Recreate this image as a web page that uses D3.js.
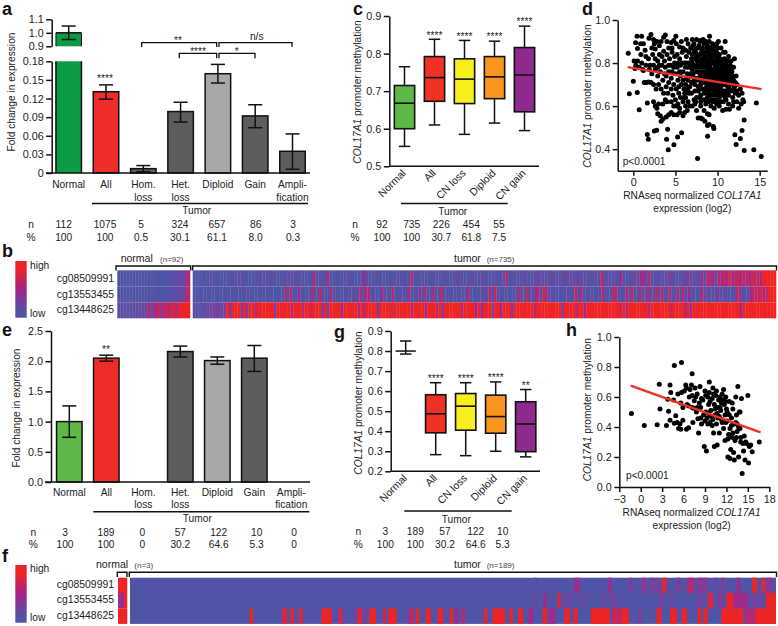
<!DOCTYPE html>
<html><head><meta charset="utf-8">
<script src="https://cdnjs.cloudflare.com/ajax/libs/d3/7.8.5/d3.min.js"></script>
<style>html,body{margin:0;padding:0;background:#fff}svg{display:block}text{font-family:"Liberation Sans",Arial,sans-serif;fill:#222}</style>
</head><body><div id="c"></div>
<script>
const barCats=["Normal","All","Hom. loss","Het. loss","Diploid","Gain","Ampli- fication"];
const aMean=[1.0,0.131,0.007,0.099,0.16,0.092,0.035];
const aLow=[0.95,0.119,0.002,0.082,0.145,0.073,0.006];
const aHigh=[1.05,0.142,0.012,0.114,0.175,0.11,0.063];
const aN=["112","1075","5","324","657","86","3"];
const aPct=["100","100","0.5","30.1","61.1","8.0","0.3"];
const eMean=[1.0,2.05,null,2.16,2.01,2.05,null];
const eLow=[0.74,2.0,null,2.07,1.95,1.83,null];
const eHigh=[1.26,2.1,null,2.25,2.07,2.26,null];
const eN=["3","189","0","57","122","10","0"];
const ePct=["100","100","0","30.2","64.6","5.3","0"];
const boxCats=["Normal","All","CN loss","Diploid","CN gain"];
const boxColors=["#5cb947","#f03224","#f8ee1e","#f9951f","#8e2a8e"];
const cBox=[[.553,.6,.668,.715,.765],[.61,.673,.736,.792,.838],[.585,.667,.732,.786,.835],[.615,.68,.738,.792,.833],[.595,.645,.743,.816,.873]];
const cN=["92","735","226","454","55"];
const cPct=["100","100","30.7","61.8","7.5"];
const gBox=[[.785,.8,.8,.8,.85],[.283,.392,.487,.582,.642],[.278,.405,.525,.588,.642],[.3,.39,.473,.58,.646],[.272,.298,.436,.547,.608]];
const gN=["3","189","57","122","10"];
const gPct=["100","100","30.2","64.6","5.3"];
const dLine=[[-.67,.781],[15.2,.679]];
const hLine=[[-1.41,.676],[16.78,.364]];
const dPts=[[-.6,.845],[-.47,.657],[0,.716],[.47,.663],[.7,.583],[1.66,.615],[1.66,.468],[1.78,.446],[2.5,.484],[2.77,.488],[4.07,.493],[3.95,.446],[4.15,.397],[4.82,.42],[5.26,.457],[5.73,.476],[7.63,.357],[8.81,.46],[9.56,.496],[9.5,.505],[12.05,.467],[12.2,.422],[12.7,.45],[12.9,.487],[13.16,.535],[13.16,.394],[14.3,.397],[14.6,.615],[15.18,.366],
[.45,.925],[1,.925],[2.1,.933],[1.86,.915],[.28,.894],[.87,.89],[.5,.868],[1.4,.86],[2.2,.87],[2.5,.89],[2.8,.9],[3.1,.88],[2.6,.865],[3.6,.92],[3.8,.93],[5.05,.925],[4.5,.895],[4.8,.905],[4.2,.87],[3.6,.855],[5.1,.89],[5.5,.875],[5.9,.87],[6.3,.91],[6.2,.86],[7,.91],[7.5,.91],[8,.905],[8.4,.89],[9.05,.925],[9,.9],[9.9,.89],[10.1,.9],[10.9,.9],
[.1,.81],[.3,.79],[.5,.81],[.7,.78],[1,.8],[1.2,.765],[.2,.775],[1.5,.83],[1.8,.82],[2,.79],[2.3,.84],[2.6,.82],[2.9,.81],[3.1,.84],[3.4,.83],[3.7,.81],[4,.84],[4.3,.82],[4.6,.85],[4.9,.83],[5.2,.84],[5.5,.82],[5.8,.85],[1.3,.71],[1.5,.71],[1.8,.712],[2.1,.71],[2.4,.7],[2.7,.68],[2.2,.75],[2.6,.77],[2.9,.74],[3.2,.76],[3.5,.72],[3.8,.78],[3.9,.74],[4.2,.76],[4.5,.73],[4.8,.78],[5,.75],[5.3,.72],[5.6,.79],[5.9,.76],[3,.7],[3.3,.68],[3.6,.66],[3.9,.69],[4.2,.71],[4.5,.68],[4.8,.7],[5.1,.68],[5.4,.66],[5.7,.7],[6,.68],
[2.4,.62],[2.6,.6],[2.8,.59],[3,.61],[2.9,.565],[3.2,.555],[3.5,.54],[3.8,.63],[4,.62],[3.3,.53],[3.9,.55],[4.2,.56],[4.5,.57],[4.8,.56],[5.2,.56],[5.5,.57],[5.9,.555],[6.1,.57],[6.4,.58],[6.7,.6],[4.5,.62],[4.8,.6],[5,.63],[5.3,.61],[5.6,.64],[5.9,.62],[6.2,.64],[6.5,.62],[7,.6],[7.3,.61],[7.5,.58],[7.7,.545],[8,.545],[8.2,.54],[8.5,.53],[8.8,.51],[9,.515],[8,.6],[8.4,.58],[8.8,.565],[9,.56],[9.2,.6],[9.6,.59],[9.9,.61],[10.2,.6],[10.6,.58],[11,.585],[11.4,.585],[11.8,.6],[12.3,.62],[12.5,.59],[12.8,.61],[13,.63],
[6.1,.8],[6.3,.83],[6.5,.78],[6.6,.85],[6.8,.75],[6.9,.82],[6.5,.72],[6.7,.69],[6.9,.66],[7.1,.88],[7.2,.79],[7.2,.73],[7.3,.7],[7.4,.85],[7.5,.64],[7.5,.76],[7.6,.81],[7.7,.67],[7.8,.88],[7.8,.73],[7.9,.84],[8,.79],[8,.7],[8,.65],[8.1,.76],[8.2,.87],[8.2,.82],[8.3,.73],[8.3,.68],[8.4,.63],[8.5,.79],[8.5,.85],[8.6,.75],[8.6,.71],[8.7,.66],[8.8,.88],[8.8,.81],[8.9,.77],[8.9,.73],[8.9,.62],[9,.84],[9,.69],[9.1,.79],[9.2,.87],[9.2,.75],[9.2,.65],[9.3,.82],[9.3,.71],[9.4,.77],[9.5,.86],[9.5,.67],[9.6,.73],[9.6,.8],[9.7,.84],[9.7,.63],[9.8,.76],[9.8,.7],[9.9,.81],[10,.87],[10,.65],[10,.74],[10.1,.79],[10.2,.84],[10.2,.68],[10.3,.72],[10.3,.77],[10.4,.62],[10.5,.81],[10.5,.65],[10.6,.75],[10.6,.7],[10.7,.85],[10.8,.78],[10.8,.67],[10.9,.72],[11,.8],[11,.63],[11.1,.75],[11.2,.69],[11.3,.77],[11.3,.65],[11.4,.72],[11.5,.75],[11.6,.67],[11.7,.71],[11.8,.64],[11.9,.78],[12,.69],[12.1,.66],[12.2,.74],[12.3,.67],[12.5,.65],[12.7,.68],[12.9,.66],[13.1,.62],[12,.82],
[6.4,.75],[6.6,.8],[6.8,.87],[7,.84],[7,.77],[7.1,.71],[7.3,.67],[7.4,.78],[7.5,.83],[7.6,.87],[7.6,.72],[7.7,.69],[7.8,.78],[7.9,.64],[7.9,.81],[8.1,.85],[8.1,.71],[8.2,.78],[8.3,.8],[8.4,.76],[8.4,.66],[8.5,.74],[8.6,.83],[8.7,.78],[8.7,.69],[8.8,.75],[8.9,.85],[9,.72],[9,.66],[9.1,.82],[9.2,.77],[9.3,.68],[9.3,.86],[9.4,.74],[9.5,.8],[9.5,.7],[9.6,.65],[9.7,.78],[9.8,.73],[9.8,.83],[9.9,.68],[10,.77],[10,.71],[10.1,.82],[10.2,.74],[10.2,.64],[10.3,.8],[10.4,.69],[10.4,.75],[10.6,.79],[10.7,.73],[10.7,.66],[10.8,.82],[10.9,.76],[11,.7],[11,.66],[11.1,.78],[11.2,.73],[11.4,.68],[11.5,.79],[11.6,.73],[11.7,.76],[11.9,.72],[6.6,.66],[6.9,.71],[7.2,.63],[6.8,.78],[6.3,.73],[6.1,.66],[5.9,.72],[6,.64],[7.4,.62],[8,.62],[8.6,.61],[9.4,.62],[10,.62],[10.7,.62],[11.3,.61],[11.9,.62],[6.4,.69],[6.2,.78],[5.6,.74],[5.3,.8],[4.9,.8],[4.4,.79],[3.4,.79],[2.9,.78],[1.9,.77],[1.1,.77],[8.3,.91],[8.6,.9],[9.4,.89],[9.7,.88],[10.4,.87],[10.9,.85],[11.3,.83],[11.6,.81],[7.2,.89],[7.9,.9],
[7,.8],[7.3,.82],[7.1,.75],[7.4,.73],[7.7,.76],[7.7,.83],[7.2,.86],[7.6,.79],[7.9,.75],[7.9,.87],[8.1,.8],[8.1,.74],[8.1,.68],[8.3,.84],[8.4,.71],[8.5,.82],[8.6,.78],[8.6,.68],[8.7,.87],[8.7,.73],[8.8,.71],[8.8,.64],[8.9,.8],[8.9,.68],[9,.77],[9,.87],[9.1,.74],[9.1,.7],[9.2,.84],[9.2,.8],[9.3,.76],[9.3,.63],[9.4,.8],[9.4,.84],[9.4,.7],[9.5,.77],[9.5,.73],[9.6,.68],[9.6,.62],[9.7,.81],[9.7,.75],[9.7,.71],[9.8,.79],[9.8,.66],[9.9,.73],[9.9,.85],[10,.8],[10,.69],[10.1,.75],[10.1,.66],[10.2,.71],[10.3,.82],[10.3,.67],[10.4,.79],[10.4,.73],[10.5,.77],[10.5,.71],[10.6,.67],[10.7,.81],[10.7,.76],[10.8,.7],[10.9,.74],[10.9,.64],[11,.77],[11,.73],[11.1,.67],[11.1,.81],[11.2,.76],[11.3,.71],[11.4,.75],[11.5,.7],[11.6,.77],[11.8,.74],[11.9,.68],[12.1,.71],[12.3,.7],[6.2,.7],[6.5,.67],[6.7,.74],[6.3,.8],[5.8,.8],[5.5,.76],[5.2,.78],[4.6,.76],[4.2,.79],[3.7,.75],[3.1,.79],[2.4,.79],[1.5,.79],[.9,.84],[1.2,.89],[2.4,.91],[3.3,.9],[4,.9],[4.6,.87],[5.7,.9],[6.5,.89],[5.4,.69],[4.7,.65],[4.1,.66],[3.5,.61],[5.1,.6],[5.5,.59],[6.2,.6]];
const hPts=[[-1.3,.49],[.5,.41],[2.3,.415],[2.6,.685],[2.7,.52],[3.6,.41],[3.8,.585],[3.9,.505],[4.1,.68],[4.1,.445],[4.2,.63],[4.6,.58],[4.7,.81],[4.7,.425],[4.9,.475],[5.1,.43],[5.3,.39],[5.5,.42],[5.7,.83],[5.6,.385],[5.6,.56],[5.7,.63],[5.9,.445],[6.1,.64],[6.3,.68],[6.4,.66],[6.5,.55],[6.7,.54],[6.4,.385],[6.7,.395],[7.1,.68],[7.2,.755],[7.2,.61],[7.3,.43],[7.4,.525],[7.5,.575],[7.6,.66],[7.7,.6],[7.8,.5],[7.9,.62],[8,.455],[8.1,.36],[8.2,.56],[8.3,.67],[8.4,.53],[8.5,.42],[8.7,.58],[8.9,.27],[9,.64],[9.1,.61],[9.1,.5],[9.2,.24],[9.3,.46],[9.4,.6],[9.5,.55],[9.6,.7],[9.6,.63],[9.7,.43],[9.8,.51],[9.9,.47],[10,.59],[10,.41],[10.1,.66],[10.2,.36],[10.3,.27],[10.3,.55],[10.4,.48],[10.5,.61],[10.6,.64],[10.6,.42],[10.7,.28],[10.8,.53],[10.9,.58],[11,.47],[11,.36],[11.1,.6],[11.2,.51],[11.3,.56],[11.4,.43],[11.4,.62],[11.6,.65],[11.6,.39],[11.7,.55],[11.8,.31],[11.8,.48],[11.9,.6],[12,.52],[12.1,.44],[12.2,.32],[12.2,.2],[12.3,.35],[12.4,.57],[12.5,.19],[12.5,.39],[12.6,.25],[12.7,.46],[12.8,.33],[12.9,.52],[13,.23],[13.1,.18],[13.1,.42],[13.2,.31],[13.3,.6],[13.4,.48],[13.5,.37],[13.6,.67],[13.7,.2],[13.8,.5],[13.9,.39],[14,.3],[14.1,.59],[14.2,.09],[14.3,.29],[14.4,.24],[14.5,.34],[14.6,.18],[14.8,.29],[15,.61],[15.1,.16],[15.4,.28],[15.6,.235],[16.6,.3],[9.4,.42],[9.7,.57],[10.1,.45],[10.4,.52],[10.8,.46],[11.1,.53],[11.5,.58],[11.9,.43],[12.1,.5],[12.4,.48],[12.7,.41],[12.9,.36],[13.3,.43],[13.5,.42],[13.7,.4],[13.9,.5],[14,.33],[9,.44],[8.8,.48],[8.4,.46],[9.5,.49],[10.2,.62],[10.7,.49],[11.3,.45],[6.8,.6],[6.9,.65],[7.2,.53],[8.5,.59],[7.9,.53],[11.9,.57],[12.8,.56],[13.4,.33],[14.7,.3],[15.2,.27],[5.2,.62],[5.9,.53]];
const bNormRows=["000000000000000001112246","000000000000000001112247","111111222263574767868999"];
const bTumorRows=[
"00000011000000111110000111111000111111100006001060000011100005000010000011010160001100110011011210012102100100116001111201121221122121222212111112611211151011315516111012331102142211516651657585675765867599999",
"0000000000000000000011000000000000606005000060070006000001111160660000501060011060005060060070000101006000011160710100001600700560760110001101706011001062006610160700601611716116006160511016212014012010660015676857999",
"11112224141494999494996999999499999699969979994949999599999696999949999889999969999599979499999969999595999499599949999999699999999949999699599999999999979699999996999999979999695999999999999999995999999999999"];
const fNormRows=["999","459","999"];
const fRow1=[[118,119,1],[130,131.5,5],[140,141,5],[146,147,4],[149.6,151,4],[152,155,3],[155.5,157,8],[160,161,4],[163,165,6],[166,169,4],[171,172,3],[173,174,4],[177.5,178.5,5],[182,183.5,9],[184.8,185.8,9],[186,188,4]];
const fRow2=[[118,119,2],[121,122,5],[125,126,8],[127,129,3],[132,133,3],[138,139,3],[140.5,142.5,3],[155,156,4],[158,159,3],[166,167,4],[169,170.6,8],[172,173.5,4],[174.5,176.5,9],[176.5,181,5],[182,185,3],[186,189,9]];
const fRow3=[[35,36,9],[44.5,46,8],[47,48,9],[49.5,50.5,9],[56,59,9],[61,62,8],[62,63,3],[65.5,66.5,3],[66.5,68,8],[68,69.5,3],[70,72,9],[74,75,7],[75.6,78,9],[81,82,4],[82,83,7],[83.6,84.6,9],[86.5,88,9],[90,91.6,9],[93.5,94.5,9],[95,96,5],[97,98,6],[103.5,104.5,9],[106,109.7,9],[111,112,9],[113.5,115,9],[116.5,118,5],[120.7,122,9],[122.5,124.5,5],[127,128.7,9],[129.7,131,9],[134.8,140.4,9],[141,144,7],[144,146,9],[148.7,149.6,4],[154,155.5,9],[158,160,9],[161.4,163,9],[166,167,9],[167.7,169,9],[173,179.4,9],[180,183,6],[183,189,9]];

const W=778,H=626;
const svg=d3.select("#c").append("svg").attr("width",W).attr("height",H).attr("viewBox",`0 0 ${W} ${H}`);
const FS=10.2,TS=10.8;
function txt(x,y,s,o={}){const t=svg.append("text").attr("x",x).attr("y",y).text(s).attr("font-size",o.size||FS).attr("text-anchor",o.anchor||"start");if(o.weight)t.attr("font-weight",o.weight);if(o.fill)t.style("fill",o.fill);return t;}
function letter(x,y,s){txt(x,y,s,{size:18,weight:"bold",}).style("fill","#111");}
function styleAxis(g){g.selectAll("path,line").attr("stroke","#111").attr("stroke-width",1.5);g.selectAll("text").attr("font-size",TS).style("font-family",'"Liberation Sans"').attr("fill","#222");}
function lineP(x1,y1,x2,y2,w=1.5,c="#111"){svg.append("line").attr("x1",x1).attr("y1",y1).attr("x2",x2).attr("y2",y2).attr("stroke",c).attr("stroke-width",w);}
function ytitle(x,y,parts){const t=svg.append("text").attr("transform",`translate(${x},${y}) rotate(-90)`).attr("text-anchor","middle").attr("font-size",FS);parts.forEach(p=>t.append("tspan").attr("font-style",p[1]?"italic":"normal").text(p[0]));}
const methT=[["COL17A1",1],[" promoter methylation",0]];
function rowTexts(label,ys,lab,xs,vals){
 lab.forEach((l,r)=>{txt(label,ys[r],l,{anchor:"middle"});vals[r].forEach((v,i)=>txt(xs[i],ys[r],v,{anchor:"middle"}));});}
function catLabels(xs,y1,y2){barCats.forEach((c,i)=>{const p=c.split(" ");txt(xs(c),y1,p.length>1?(c.startsWith("Ampli")?"Ampli-":p[0]):c,{anchor:"middle"});if(p.length>1)txt(xs(c),y2,p[1],{anchor:"middle"});});}
function errorBar(x,yl,yh,cap=7){lineP(x,yl,x,yh);lineP(x-cap,yl,x+cap,yl);lineP(x-cap,yh,x+cap,yh);}
const barW=25.5;

// ---- panel a
letter(2,15,"a");
const xA=d3.scalePoint().domain(barCats).range([68.7,292.5]);
const yAl=d3.scaleLinear().domain([0,.18]).range([173,61.3]);
const yAh=d3.scaleLinear().domain([.9,1.1]).range([46.3,19.3]);
const aFill=["#0c9a44","#ee2c28","#5d5d5d","#5d5d5d","#a8a8a8","#5d5d5d","#5d5d5d"];
svg.append("rect").attr("x",xA("Normal")-barW/2).attr("width",barW).attr("y",yAh(1)).attr("height",yAh(.9)-yAh(1)).attr("fill",aFill[0]);
lineP(xA("Normal")-barW/2,yAh(1),xA("Normal")+barW/2,yAh(1));
lineP(xA("Normal")-barW/2,yAh(1),xA("Normal")-barW/2,yAh(.9),1);lineP(xA("Normal")+barW/2,yAh(1),xA("Normal")+barW/2,yAh(.9),1);
svg.append("rect").attr("x",xA("Normal")-barW/2).attr("width",barW).attr("y",yAl(.18)).attr("height",yAl(0)-yAl(.18)).attr("fill",aFill[0]);
lineP(xA("Normal")-barW/2,yAl(.18),xA("Normal")-barW/2,yAl(0));lineP(xA("Normal")+barW/2,yAl(.18),xA("Normal")+barW/2,yAl(0));
barCats.forEach((c,i)=>{if(i==0){errorBar(xA(c),yAh(aLow[i]),yAh(aHigh[i]));return;}
 svg.append("rect").attr("x",xA(c)-barW/2).attr("width",barW).attr("y",yAl(aMean[i])).attr("height",yAl(0)-yAl(aMean[i])).attr("fill",aFill[i]).attr("stroke","#111").attr("stroke-width",1.5);
 errorBar(xA(c),yAl(aLow[i]),yAl(aHigh[i]));});
svg.append("g").attr("transform","translate(51.7,0)").call(d3.axisLeft(yAl).tickValues([0,.03,.06,.09,.12,.15,.18]).tickFormat(d=>d===0?"0":d3.format(".2f")(d)).tickSize(5.5).tickPadding(2.5).tickSizeOuter(0)).call(styleAxis);
svg.append("g").attr("transform","translate(51.7,0)").call(d3.axisLeft(yAh).tickValues([.9,1,1.1]).tickFormat(d3.format(".1f")).tickSize(5.5).tickPadding(2.5).tickSizeOuter(0)).call(styleAxis);
lineP(46,173,310,173);
ytitle(15,92,[["Fold change in expression",0]]);
txt(105,82,"****",{anchor:"middle"});
[[141.7,216.7,42.7,47,178,44,"**"],[219,292,42.7,47,256.7,40,"n/s"],[179.3,216.7,53.3,58.3,198,55,"****"],[219,255,53.3,58.3,236.7,55,"*"]].forEach(b=>{
 svg.append("path").attr("d",`M${b[0]},${b[3]}V${b[2]}H${b[1]}V${b[3]}`).attr("fill","none").attr("stroke","#111").attr("stroke-width",1.3);
 txt(b[4],b[5],b[6],{anchor:"middle",size:b[6]=="n/s"?FS:10});});
catLabels(xA,188,201);
lineP(92,203.5,308,203.5);txt(196.7,214,"Tumor",{anchor:"middle"});
rowTexts(31,[228,240.5],["n","%"],[63.7,105,141,180,217,255.7,293],[aN,aPct]);

// ---- panel e
letter(2,336,"e");
const xE=d3.scalePoint().domain(barCats).range([69.3,291.3]);
const yE=d3.scaleLinear().domain([0,2.5]).range([482,331]);
const eFill=["#5cb947","#ee2c28","#5d5d5d","#5d5d5d","#a8a8a8","#5d5d5d","#5d5d5d"];
barCats.forEach((c,i)=>{if(eMean[i]==null)return;
 svg.append("rect").attr("x",xE(c)-barW/2).attr("width",barW).attr("y",yE(eMean[i])).attr("height",yE(0)-yE(eMean[i])).attr("fill",eFill[i]).attr("stroke","#111").attr("stroke-width",1.5);
 errorBar(xE(c),yE(eLow[i]),yE(eHigh[i]));});
svg.append("g").attr("transform","translate(51,0)").call(d3.axisLeft(yE).tickValues([0,.5,1,1.5,2,2.5]).tickFormat(d3.format(".1f")).tickSize(5.5).tickPadding(2.5).tickSizeOuter(0)).call(styleAxis);
lineP(45,482,310,482);
ytitle(20,408,[["Fold change in expression",0]]);
txt(106,353,"**",{anchor:"middle"});
catLabels(xE,495.7,508.3);
lineP(93.3,511.7,309.3,511.7);txt(197.3,522.3,"Tumor",{anchor:"middle"});
rowTexts(33.3,[535.7,548],["n","%"],[65,106,142.3,180.3,218.7,256.7,294],[eN,ePct]);

// ---- box plots
function boxPanel(o){
 const x=d3.scalePoint().domain(boxCats).range(o.xr);
 const y=d3.scaleLinear().domain(o.yd).range(o.yr);
 const bw=20.3,cap=5.7;
 boxCats.forEach((c,i)=>{const b=o.data[i],cx=x(c);
  lineP(cx,y(b[0]),cx,y(b[1]));lineP(cx,y(b[3]),cx,y(b[4]));
  lineP(cx-cap,y(b[0]),cx+cap,y(b[0]));lineP(cx-cap,y(b[4]),cx+cap,y(b[4]));
  if(b[1]===b[3]){lineP(cx-bw/2,y(b[2]),cx+bw/2,y(b[2]));return;}
  svg.append("rect").attr("x",cx-bw/2).attr("width",bw).attr("y",y(b[3])).attr("height",y(b[1])-y(b[3])).attr("fill",boxColors[i]).attr("stroke","#111").attr("stroke-width",1.6);
  lineP(cx-bw/2,y(b[2]),cx+bw/2,y(b[2]),1.6);});
 svg.append("g").attr("transform",`translate(${o.ax},0)`).call(d3.axisLeft(y).ticks(o.ticks).tickFormat(d3.format(".1f")).tickSize(5.5).tickPadding(2.5).tickSizeOuter(0)).call(styleAxis);
 lineP(o.ax,o.yr[0],o.xEnd,o.yr[0]);
 boxCats.forEach((c,i)=>{svg.append("text").attr("transform",`translate(${x(c)+2},${o.yr[0]+7.5}) rotate(-45)`).attr("text-anchor","end").attr("font-size",10.5).text(c);});
 o.stars.forEach((s,i)=>{if(s[0])txt(x(boxCats[i]),s[1]+6,s[0],{anchor:"middle"});});
 ytitle(o.tx,o.ty,methT);
}
letter(353,15,"c");
boxPanel({xr:[404.5,524.5],yd:[.5,.9],yr:[166.3,16],ax:389.3,xEnd:539,ticks:4,data:cBox,stars:[[0,0],["****",32.7],["****",34],["****",34],["****",19.3]],tx:361,ty:92});
lineP(401,203.5,507.7,203.5);txt(452.7,215,"Tumor",{anchor:"middle"});
rowTexts(355,[228,240.5],["n","%"],[382,411.7,441.3,471.3,499],[cN,cPct]);
letter(334,338,"g");
boxPanel({xr:[405.7,525.7],yd:[.2,.9],yr:[471.3,331],ax:390.7,xEnd:540,ticks:7,data:gBox,stars:[[0,0],["****",376],["****",376],["****",375],["**",382.7]],tx:361.5,ty:403});
lineP(404.3,511,511.7,511);txt(456.3,522.7,"Tumor",{anchor:"middle"});
rowTexts(358.3,[535,547.7],["n","%"],[385.3,415.3,445,475.7,502.7],[gN,gPct]);

// ---- scatter
function scatter(o){
 const x=d3.scaleLinear().domain(o.xd).range(o.xr),y=d3.scaleLinear().domain(o.yd).range(o.yr);
 svg.append("g").selectAll("circle").data(o.pts).join("circle").attr("cx",d=>x(d[0])).attr("cy",d=>y(d[1])).attr("r",2.5).attr("fill","#000");
 svg.append("path").attr("d",d3.line().x(d=>x(d[0])).y(d=>y(d[1]))(o.line)).attr("stroke","#f03024").attr("stroke-width",2.4).attr("fill","none");
 svg.append("g").attr("transform",`translate(${o.xr[0]},0)`).call(d3.axisLeft(y).tickValues(o.yt).tickFormat(d3.format(".1f")).tickSize(5).tickPadding(2.5).tickSizeOuter(0)).call(styleAxis);
 svg.append("g").attr("transform",`translate(0,${o.yr[0]})`).call(d3.axisBottom(x).tickValues(o.xt).tickSize(5).tickPadding(3).tickSizeOuter(0)).call(styleAxis);
 txt(o.px,o.py,"p<0.0001");
 ytitle(o.tx,o.ty,methT);
 const t=txt(o.lx,o.l1,"",{anchor:"middle"});t.append("tspan").text("RNAseq normalized ");t.append("tspan").attr("font-style","italic").text("COL17A1");
 txt(o.lx,o.l2,"expression (log2)",{anchor:"middle"});
}
letter(582,15,"d");
scatter({pts:dPts,line:dLine,xd:[-1.85,15.9],xr:[617.7,767.3],yd:[.3,1],yr:[170.7,20],yt:[.4,.6,.8,1],xt:[0,5,10,15],px:622.7,py:165,tx:591,ty:96,lx:692.3,l1:199,l2:212});
letter(566,336,"h");
scatter({pts:hPts,line:hLine,xd:[-3,18],xr:[619.3,769.3],yd:[0,1],yr:[487,337],yt:[0,.2,.4,.6,.8,1],xt:[-3,0,3,6,9,12,15,18],px:626,py:478.7,tx:591,ty:409.7,lx:691.7,l1:516,l2:528.7});

// ---- heatmaps
const defs=svg.append("defs");
const heatStops=["#ee2424","#b0207a","#8a3296","#4f54a6"];
const grad=defs.append("linearGradient").attr("id","hg").attr("x1",0).attr("x2",0).attr("y1",0).attr("y2",1);
[[0,heatStops[0]],[.15,heatStops[0]],[.45,heatStops[1]],[.62,heatStops[2]],[.9,heatStops[3]],[1,heatStops[3]]].forEach(s=>grad.append("stop").attr("offset",s[0]).attr("stop-color",s[1]));
const heat=d3.scaleLinear().domain([0,3,5,9]).range(["#4f54a6","#6f45a0","#a02a8c","#ee2424"]);
const probes=["cg08509991","cg13553455","cg13448625"];
function strRows(rows,x0,x1,ys,rh){rows.forEach((r,ri)=>{const x=d3.scaleLinear().domain([0,r.length]).range([x0,x1]);
 svg.append("g").selectAll("rect").data(r.split("").map(Number)).join("rect").attr("x",(d,i)=>x(i)).attr("width",x(1)-x(0)+.3).attr("y",ys[ri]).attr("height",rh).attr("fill",d=>heat(d));});}
function heatHeader(o){
 svg.append("rect").attr("x",15.3).attr("width",11.4).attr("y",o.ly0).attr("height",o.ly1-o.ly0).attr("fill","url(#hg)");
 txt(30,o.hy,"high");txt(30,o.lyb,"low");
 probes.forEach((p,i)=>txt(114,o.py[i],p,{anchor:"end",size:10.4}));
 const br=(a,b,y,d)=>svg.append("path").attr("d",`M${a},${d}V${y}H${b}V${d}`).attr("fill","none").attr("stroke","#111").attr("stroke-width",1.4);
 br(o.nb[0],o.nb[1],o.by,o.bd);br(o.tb[0],o.tb[1],o.by,o.bd);
 txt(o.nt[0],o.nt[1],"normal",{size:10.5});txt(o.nn[0],o.nt[1],o.nn[1],{size:8,fill:"#444"});
 txt(454,o.nt[1],"tumor",{size:10.5});txt(486.7,o.nt[1],o.tn,{size:8,fill:"#444"});
}
letter(2,257,"b");
heatHeader({ly0:261,ly1:317.7,hy:269,lyb:316.7,py:[282.3,297.7,313],nb:[116,190.7],tb:[192.7,776.5],by:266,bd:270.5,nt:[120.7,262.3],nn:[160,"(n=92)"],tn:"(n=735)"});
strRows(bNormRows,117.3,190,[270.3,286.3,302.3],16);
strRows(bTumorRows,192.7,776,[270.3,286.3,302.3],16);
letter(2,562,"f");
heatHeader({ly0:565,ly1:622.7,hy:572.3,lyb:620.7,py:[587.7,603.3,619],nb:[117.3,127],tb:[129.3,776.5],by:572.3,bd:577,nt:[96,568.3],nn:[134.3,"(n=3)"],tn:"(n=189)"});
strRows(fNormRows,118,127,[577.7,593,608.4],15.5);
const xF=d3.scaleLinear().domain([0,189]).range([130,776]);
const fYs=[577.7,593,608.4];
svg.append("rect").attr("x",xF(0)).attr("width",xF(189)-xF(0)).attr("y",577.7).attr("height",46.2).attr("fill",heat(0));
[fRow1,fRow2,fRow3].forEach((rows,ri)=>svg.append("g").selectAll("rect").data(rows).join("rect").attr("x",d=>xF(d[0])).attr("width",d=>xF(d[1])-xF(d[0])).attr("y",fYs[ri]).attr("height",15.5).attr("fill",d=>heat(d[2])));
</script></body></html>
